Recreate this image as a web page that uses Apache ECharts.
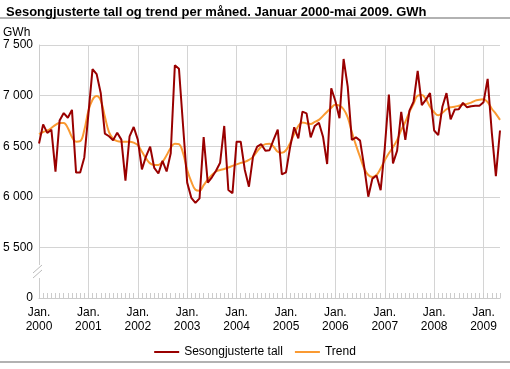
<!DOCTYPE html>
<html>
<head>
<meta charset="utf-8">
<script src="https://cdn.jsdelivr.net/npm/echarts@6/dist/echarts.min.js"></script>
<style>
html,body{margin:0;padding:0;background:#fff;}
#chart{width:510px;height:369px;}
</style>
</head>
<body>
<div id="chart"></div>
<script>
// Monthly categories Jan 2000 – May 2009
const years = [2000, 2001, 2002, 2003, 2004, 2005, 2006, 2007, 2008, 2009];
const lastMonth = 5; // May 2009
const months = [];
years.forEach(function (y) {
  const n = (y === 2009) ? lastMonth : 12;
  for (let m = 1; m <= n; m++) months.push(y + '-' + (m < 10 ? '0' + m : m));
});

// Sesongjusterte tall (GWh)
const sesongjustert = [
  6526, 6716, 6631, 6663, 6248, 6755, 6827, 6781, 6859, 6239, 6239, 6389, // 2000
  6820, 7261, 7212, 7023, 6624, 6598, 6559, 6634, 6565, 6160, 6598, 6690, // 2001
  6565, 6271, 6400, 6495, 6285, 6230, 6355, 6250, 6430, 7300, 7265, 6700, // 2002
  6140, 5990, 5940, 5985, 6590, 6140, 6193, 6258, 6337, 6700, 6067, 6035, // 2003
  6545, 6545, 6265, 6100, 6400, 6495, 6520, 6455, 6460, 6565, 6665, 6222, // 2004
  6242, 6490, 6687, 6578, 6841, 6825, 6588, 6700, 6732, 6594, 6324, 7072, // 2005
  6947, 6776, 7362, 7088, 6561, 6588, 6555, 6298, 6001, 6180, 6210, 6065, // 2006
  6480, 7010, 6330, 6455, 6840, 6563, 6851, 6940, 7245, 6905, 6960, 7025, // 2007
  6655, 6610, 6890, 7025, 6765, 6862, 6866, 6928, 6884, 6895, 6900, 6900, // 2008
  6935, 7165, 6640, 6205, 6655                                          // 2009
];

// Trend (GWh)
const trend = [
  6620, 6640, 6655, 6680, 6710, 6730, 6730, 6680, 6590, 6545, 6550, 6660, // 2000
  6850, 6960, 6995, 6950, 6790, 6640, 6575, 6550, 6545, 6545, 6545, 6535, // 2001
  6510, 6445, 6380, 6330, 6315, 6315, 6345, 6410, 6485, 6525, 6520, 6430, // 2002
  6265, 6150, 6070, 6060, 6115, 6170, 6215, 6250, 6265, 6275, 6290, 6305, // 2003
  6320, 6335, 6345, 6365, 6395, 6450, 6495, 6520, 6525, 6495, 6445, 6435, // 2004
  6460, 6530, 6620, 6700, 6735, 6725, 6720, 6740, 6760, 6800, 6840, 6880, // 2005
  6910, 6900, 6865, 6785, 6640, 6510, 6395, 6280, 6215, 6195, 6215, 6280, // 2006
  6360, 6430, 6490, 6560, 6660, 6740, 6840, 6920, 7000, 7005, 6965, 6890, // 2007
  6835, 6805, 6830, 6865, 6885, 6890, 6900, 6910, 6918, 6930, 6950, 6958, // 2008
  6965, 6935, 6870, 6820, 6760                                          // 2009
];

// Y tick labels (bottom tick is the axis-break "0")
const yTickLabels = { 5000: '0', 5500: '5 500', 6000: '6 000', 6500: '6 500', 7000: '7 000', 7500: '7 500' };

const seriesNames = ['Sesongjusterte tall', 'Trend'];
const colors = ['#990000', '#fa9a32'];

const FONT = '"Liberation Sans", Arial, Helvetica, sans-serif';
const chart = echarts.init(document.getElementById('chart'), null, { renderer: 'canvas' });

const isJan = function (index) { return index % 12 === 0; };

chart.setOption({
  animation: false,
  textStyle: { fontFamily: FONT },
  title: {
    text: 'Sesongjusterte tall og trend per måned. Januar 2000-mai 2009. GWh',
    left: 1, top: 1,
    textStyle: { fontFamily: FONT, fontSize: 13, fontWeight: 'bold', color: '#000' }
  },
  grid: { left: 38, right: 10, top: 45, bottom: 71, containLabel: false },
  legend: {
    data: seriesNames,
    top: 341, left: 'center',
    icon: 'rect', itemWidth: 25, itemHeight: 2, itemGap: 12,
    textStyle: { fontFamily: FONT, fontSize: 12, color: '#000' }
  },
  xAxis: {
    type: 'category',
    data: months,
    boundaryGap: false,
    axisLine: { show: true, lineStyle: { color: '#cccccc', width: 1 } },
    axisTick: { show: true, inside: true, interval: 0, length: 5, lineStyle: { color: '#cccccc' } },
    axisLabel: {
      interval: isJan,
      margin: 8,
      fontFamily: FONT, fontSize: 12, color: '#000', lineHeight: 14,
      formatter: function (v) { return 'Jan.\n' + v.slice(0, 4); }
    },
    splitLine: { show: true, interval: isJan, lineStyle: { color: '#d4d4d4', width: 1 } }
  },
  yAxis: {
    type: 'value',
    min: 5000, max: 7500, interval: 500,
    axisLine: { show: true, lineStyle: { color: '#cccccc', width: 1 } },
    axisTick: { show: false },
    axisLabel: {
      margin: 6, fontFamily: FONT, fontSize: 12, color: '#000',
      formatter: function (v) { return yTickLabels[v] !== undefined ? yTickLabels[v] : ''; }
    },
    splitLine: { show: true, lineStyle: { color: '#d4d4d4', width: 1 } }
  },
  graphic: [
    { type: 'text', left: 3, top: 27, style: { text: 'GWh', fontFamily: FONT, fontSize: 12, fill: '#000' } },
    { type: 'line', shape: { x1: 0, y1: 18, x2: 510, y2: 18 }, style: { stroke: '#999999', lineWidth: 1.5 } },
    { type: 'line', shape: { x1: 0, y1: 362, x2: 510, y2: 362 }, style: { stroke: '#999999', lineWidth: 1.5 } },
    { type: 'rect', shape: { x: 34, y: 265, width: 8, height: 13 }, style: { fill: '#ffffff' }, z: 50 },
    { type: 'line', shape: { x1: 33, y1: 273, x2: 42, y2: 265 }, style: { stroke: '#bbbbbb', lineWidth: 1 }, z: 51 },
    { type: 'line', shape: { x1: 33, y1: 278, x2: 42, y2: 270 }, style: { stroke: '#bbbbbb', lineWidth: 1 }, z: 51 }
  ],
  series: [
    {
      name: seriesNames[1], type: 'line', data: trend,
      showSymbol: false, smooth: 0.4,
      lineStyle: { color: colors[1], width: 2 }, itemStyle: { color: colors[1] }, z: 2
    },
    {
      name: seriesNames[0], type: 'line', data: sesongjustert,
      showSymbol: false,
      lineStyle: { color: colors[0], width: 2 }, itemStyle: { color: colors[0] }, z: 3
    }
  ]
});
</script>
</body>
</html>
